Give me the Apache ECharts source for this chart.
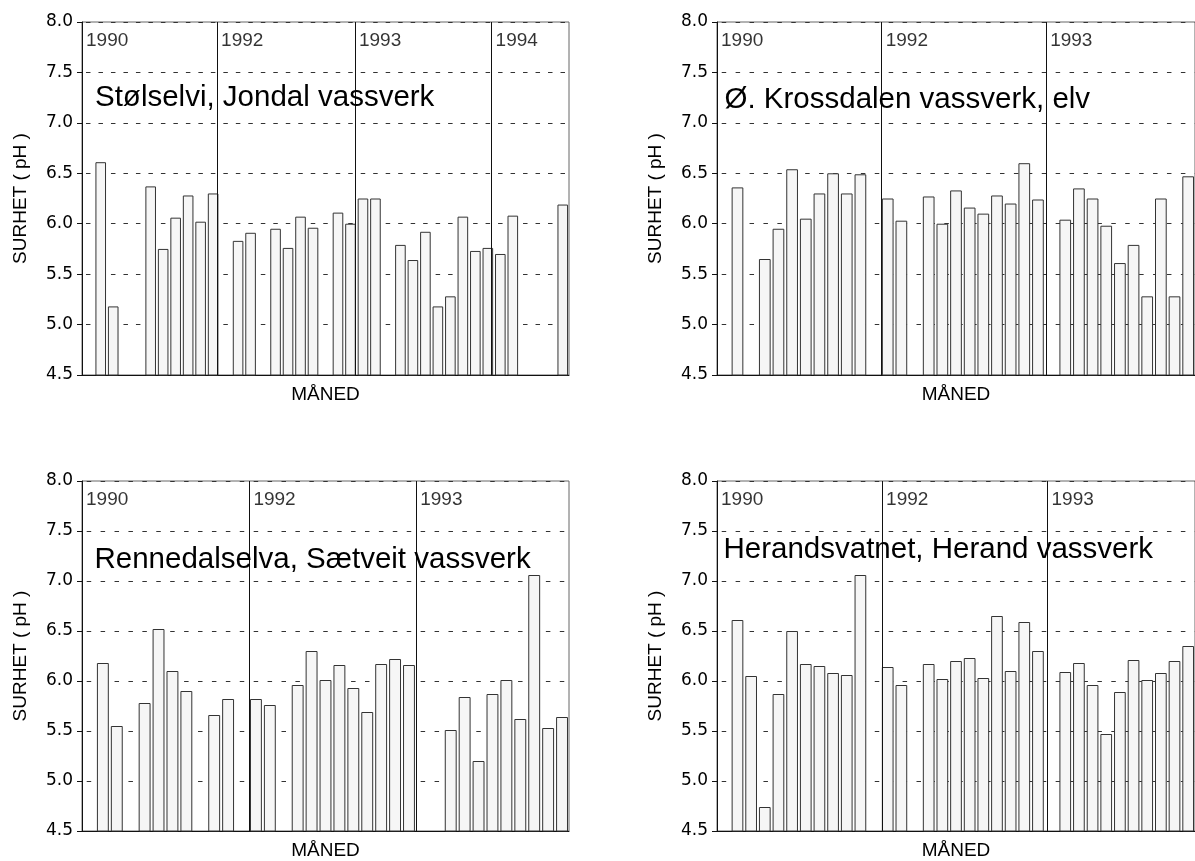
<!DOCTYPE html>
<html>
<head>
<meta charset="utf-8">
<script src="https://cdn.jsdelivr.net/npm/echarts@6/dist/echarts.min.js"></script>
<style>
html,body{margin:0;padding:0;background:#fff;}
#chart{width:1195px;height:861px;}
</style>
</head>
<body>
<div id="chart"></div>
<script>
// pH per month slot (null = no sample)
const stolselviValues = [6.61, 5.18, null, null, 6.37, 5.75, 6.06, 6.28, 6.02, 6.30, null, 5.83, 5.91, null, 5.95, 5.76, 6.07, 5.96, null, 6.11, 6.00, 6.25, 6.25, null, 5.79, 5.64, 5.92, 5.18, 5.28, 6.07, 5.73, 5.76, 5.70, 6.08, null, null, null, 6.19];
const krossdalenValues = [6.36, null, 5.65, 5.95, 6.54, 6.05, 6.30, 6.50, 6.30, 6.49, null, 6.25, 6.03, null, 6.27, 6.00, 6.33, 6.16, 6.10, 6.28, 6.20, 6.60, 6.24, null, 6.04, 6.35, 6.25, 5.98, 5.61, 5.79, 5.28, 6.25, 5.28, 6.47];
const rennedalValues = [6.18, 5.55, null, 5.78, 6.52, 6.10, 5.90, null, 5.66, 5.82, null, 5.82, 5.76, null, 5.96, 6.30, 6.01, 6.16, 5.93, 5.69, 6.17, 6.22, 6.16, null, null, 5.51, 5.84, 5.20, 5.87, 6.01, 5.62, 7.06, 5.53, 5.64];
const herandValues = [6.61, 6.05, 4.74, 5.87, 6.50, 6.17, 6.15, 6.08, 6.06, 7.06, null, 6.14, 5.96, null, 6.17, 6.02, 6.20, 6.23, 6.03, 6.65, 6.10, 6.59, 6.30, null, 6.09, 6.18, 5.96, 5.47, 5.89, 6.21, 6.01, 6.08, 6.20, 6.35];

// year boundaries (in month-slot units)
const stolselviDividers = [9.32, 20.36, 31.3];
const krossdalenDividers = [10.56, 22.6];
const rennedalDividers = [10.53, 22.52];
const herandDividers = [10.59, 22.7];

const yearsFour = ['1990', '1992', '1993', '1994'];
const yearsThree = ['1990', '1992', '1993'];

const stationNames = ['Stølselvi, Jondal vassverk', 'Ø. Krossdalen vassverk, elv', 'Rennedalselva, Sætveit vassverk', 'Herandsvatnet, Herand vassverk'];
const yTicks = ['4.5', '5.0', '5.5', '6.0', '6.5', '7.0', '7.5', '8.0'];

const panels = [
  {values: stolselviValues, dividers: stolselviDividers, years: yearsFour, name: stationNames[0],
   grid: {left: 82, top: 22, width: 487, height: 353}, xmax: 37.5, barWidth: 10.6, title: {left: 95, top: 83}},
  {values: krossdalenValues, dividers: krossdalenDividers, years: yearsThree, name: stationNames[1],
   grid: {left: 717, top: 22, width: 487, height: 353}, xmax: 33.5, barWidth: 11.7, title: {left: 724.5, top: 85}},
  {values: rennedalValues, dividers: rennedalDividers, years: yearsThree, name: stationNames[2],
   grid: {left: 82, top: 481, width: 487, height: 352}, xmax: 33.5, barWidth: 11.9, title: {left: 94.5, top: 545}},
  {values: herandValues, dividers: herandDividers, years: yearsThree, name: stationNames[3],
   grid: {left: 717, top: 481, width: 487, height: 352}, xmax: 33.5, barWidth: 11.7, title: {left: 723.5, top: 535}}
];

const XMIN = -1.5, YMIN = 4.5, YMAX = 8.0;
const sans = '"Liberation Sans", Arial, Helvetica, sans-serif';

const grids = [], xAxes = [], yAxes = [], series = [], titles = [];
panels.forEach((p, i) => {
  grids.push(Object.assign({show: true, borderColor: '#666', borderWidth: 1, backgroundColor: 'transparent'}, p.grid));
  const slot = p.grid.width / (p.xmax - XMIN);
  const dash = 4.5;
  xAxes.push({
    type: 'value', gridIndex: i, min: XMIN, max: p.xmax,
    axisLine: {show: true, onZero: false, lineStyle: {color: '#111', width: 1}},
    axisTick: {show: false}, axisLabel: {show: false}, splitLine: {show: false},
    name: 'MÅNED', nameLocation: 'middle', nameGap: 10,
    nameTextStyle: {fontFamily: sans, fontSize: 19, color: '#000', verticalAlign: 'top'}
  });
  yAxes.push({
    type: 'value', gridIndex: i, min: YMIN, max: YMAX, interval: 0.5,
    axisLine: {show: true, onZero: false, lineStyle: {color: '#111', width: 1}},
    axisTick: {show: true, inside: false, length: 5, lineStyle: {color: '#111'}},
    axisLabel: {show: true, margin: 9, color: '#000', fontFamily: '"DejaVu Sans", sans-serif', fontSize: 17,
      formatter: v => yTicks[Math.round((v - YMIN) / 0.5)]},
    splitLine: {show: true, lineStyle: {color: '#333', width: 1, type: [dash, slot - dash], dashOffset: slot - (slot / 2 - dash / 2)}},
    name: 'SURHET ( pH )', nameLocation: 'middle', nameGap: 52,
    nameTextStyle: {fontFamily: sans, fontSize: 19, color: '#000'}
  });
  const data = [];
  p.values.forEach((v, k) => { if (v !== null) data.push([k, v]); });
  series.push({
    type: 'bar', xAxisIndex: i, yAxisIndex: i, data: data, barWidth: p.barWidth,
    itemStyle: {color: '#f6f6f6', borderColor: '#333', borderWidth: 1},
    silent: true,
    markLine: {
      symbol: 'none', silent: true, label: {show: false},
      lineStyle: {color: '#111', width: 1, type: 'solid'},
      data: p.dividers.map(x => [{coord: [x, YMAX]}, {coord: [x, YMIN]}])
    }
  });
  const starts = [XMIN].concat(p.dividers);
  series.push({
    type: 'scatter', xAxisIndex: i, yAxisIndex: i, symbolSize: 0, silent: true, clip: false,
    data: starts.map((x, j) => ({value: [x, YMAX], name: p.years[j]})),
    label: {show: true, position: 'right', distance: 4, offset: [0, 19], formatter: d => d.name,
      fontFamily: sans, fontSize: 19, color: '#000'}
  });
  titles.push({text: p.name, left: p.title.left, top: p.title.top, padding: 0,
    textStyle: {fontFamily: sans, fontSize: 29.5, fontWeight: 'normal', color: '#000'}});
});

const chart = echarts.init(document.getElementById('chart'), null, {renderer: 'canvas'});
chart.setOption({
  backgroundColor: '#fff',
  animation: false,
  title: titles,
  grid: grids,
  xAxis: xAxes,
  yAxis: yAxes,
  series: series
});
</script>
</body>
</html>
